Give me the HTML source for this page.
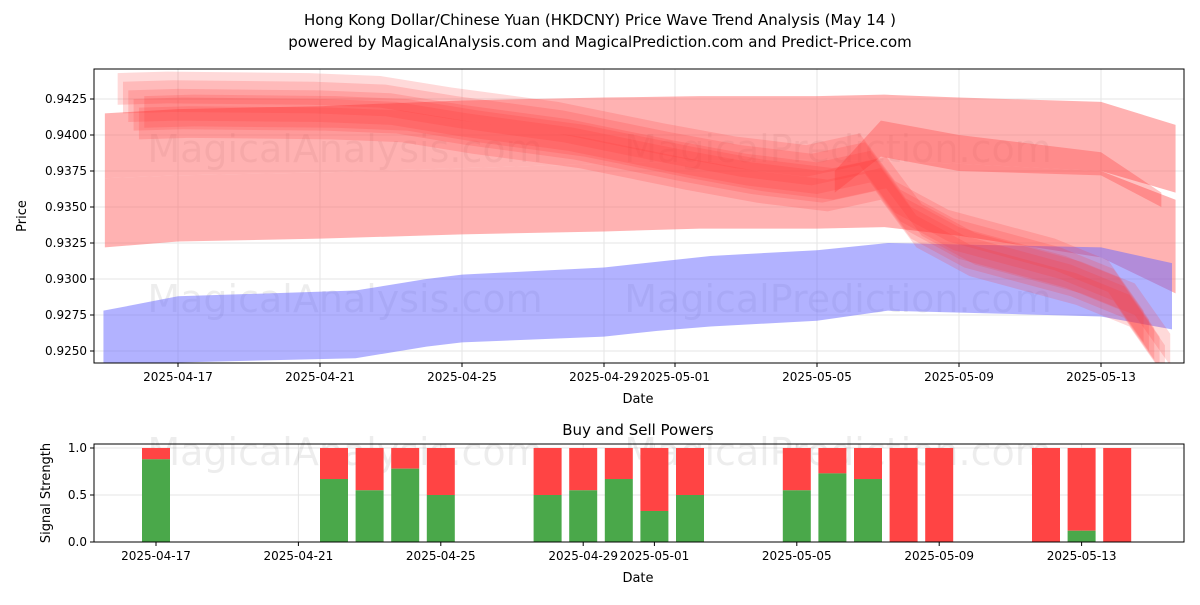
<!DOCTYPE html>
<html><head><meta charset="utf-8"><style>
body{margin:0;background:#fff;font-family:"Liberation Sans","DejaVu Sans",sans-serif}
svg text{font-family:"DejaVu Sans","Liberation Sans",sans-serif}
</style></head><body>
<svg id="c" width="1200" height="600" xmlns="http://www.w3.org/2000/svg">
<rect width="1200" height="600" fill="#fff"/>
<text x="600" y="25" text-anchor="middle" font-size="15">Hong Kong Dollar/Chinese Yuan (HKDCNY) Price Wave Trend Analysis (May 14 )</text>
<text x="600" y="47" text-anchor="middle" font-size="15">powered by MagicalAnalysis.com and MagicalPrediction.com and Predict-Price.com</text>
<g id="topg"></g><g id="botg"></g>
</svg>
<script>
const tickDays=[0,4,8,12,14,18,22,26];
const tickLabels=["2025-04-17","2025-04-21","2025-04-25","2025-04-29","2025-05-01","2025-05-05","2025-05-09","2025-05-13"];
const priceTicks=[0.9250,0.9275,0.9300,0.9325,0.9350,0.9375,0.9400,0.9425];
const band1Days=[-2.06,0,4,8,12,14.7,18,19.9,22,26,28.1];
const band1Hi=[0.9415,0.9418,0.9420,0.9424,0.9426,0.9427,0.9427,0.9428,0.9426,0.9423,0.9407];
const band1Lo=[0.9370,0.9372,0.9374,0.9377,0.9380,0.9382,0.9383,0.9382,0.9380,0.9375,0.9360];
const band2Days=[-2.06,0,4,8,12,14.7,18,19.9,22,26,28.1];
const band2Hi=[0.9370,0.9372,0.9374,0.9377,0.9380,0.9382,0.9383,0.9382,0.9380,0.9375,0.9355];
const band2Lo=[0.9322,0.9326,0.9328,0.9331,0.9333,0.9335,0.9335,0.9336,0.9330,0.9315,0.9290];
const blueDays=[-2.1,0,5,7,8,12,13.5,15,18,20,26,28];
const blueHi=[0.9278,0.9288,0.9292,0.9300,0.9303,0.9308,0.9312,0.9316,0.9320,0.9325,0.9322,0.9311];
const blueLo=[0.9238,0.9242,0.9245,0.9253,0.9256,0.9260,0.9264,0.9267,0.9271,0.9278,0.9274,0.9265];
const humpDays=[18.5,19.8,22,26,27.7];
const humpHi=[0.9375,0.9410,0.9400,0.9388,0.9360];
const humpLo=[0.9360,0.9385,0.9375,0.9372,0.9350];
const strandDays=[-1.4,0,4,6,8,11,14,16,18,19.5,20.5,22,25,26.5,27.5];
const strandVals=[0.9420,0.9421,0.9420,0.9418,0.9410,0.9400,0.9385,0.9376,0.9370,0.9378,0.9345,0.9325,0.9305,0.9290,0.9255];
const strandOffsets=[0.0012,0.0006,0,-0.0006,-0.0012,-0.0004];
const barDays=[0,5,6,7,8,11,12,13,14,15,18,19,20,21,22,25,26,27];
const buyVals=[0.88,0.67,0.55,0.78,0.5,0.5,0.55,0.67,0.33,0.5,0.55,0.73,0.67,0,0,0,0.12,0];
const sigTicks=[0,0.5,1.0];

const NS="http://www.w3.org/2000/svg";
const L=94,R=1184,T=69,B=363,BT=444,BB=542;
const xT=d=>178+d*35.5, yT=v=>99+(0.9425-v)/0.0025*36;
const xB=d=>156+d*35.6, yB=s=>542-s*94;
function mk(p,tag,a){const e=document.createElementNS(NS,tag);for(const k in a)e.setAttribute(k,a[k]);p.appendChild(e);return e;}
const topG=document.getElementById('topg'),botG=document.getElementById('botg');
function wm(p,x,y,txt){const w=mk(p,'text',{x:x,y:y,'font-size':38,fill:'#000','fill-opacity':0.07,'text-anchor':'middle'});w.textContent=txt;

}
const defs=mk(topG,'defs',{});const cp=mk(defs,'clipPath',{id:'cp'});mk(cp,'rect',{x:L,y:T,width:R-L,height:B-T});
priceTicks.forEach(v=>{mk(topG,'line',{x1:L,x2:R,y1:yT(v),y2:yT(v),stroke:'#e5e5e5'});});
tickDays.forEach(d=>{mk(topG,'line',{x1:xT(d),x2:xT(d),y1:T,y2:B,stroke:'#e5e5e5'});});
wm(topG,345,162,'MagicalAnalysis.com');wm(topG,838,162,'MagicalPrediction.com');
wm(topG,345,312,'MagicalAnalysis.com');wm(topG,838,312,'MagicalPrediction.com');
const g=mk(topG,'g',{'clip-path':'url(#cp)'});
function band(days,hi,lo,fill,op,name){
  let pts=days.map((d,i)=>xT(d)+','+yT(hi[i]));
  for(let i=days.length-1;i>=0;i--)pts.push(xT(days[i])+','+yT(lo[i]));
  const p=mk(g,'polygon',{points:pts.join(' '),fill:fill,'fill-opacity':op});
  
  
}
band(band1Days,band1Hi,band1Lo,'#ff6666',0.5,'upper-red-band');
band(band2Days,band2Hi,band2Lo,'#ff6666',0.5,'lower-red-band');
band(blueDays,blueHi,blueLo,'#6666ff',0.5,'blue-band');
band(humpDays,humpHi,humpLo,'#ff3333',0.3,'hump-strand');
strandOffsets.forEach((o,k)=>{
  const hi=strandVals.map(v=>v+o+0.0011), lo=strandVals.map(v=>v+o-0.0011);
  const ds=strandDays.map((d,i)=>d+(k-2)*0.15);
  band(ds,hi,lo,'#ff3333',0.19,'wave-strand');
});
mk(topG,'rect',{x:L,y:T,width:R-L,height:B-T,fill:'none',stroke:'#000'});
priceTicks.forEach(v=>{mk(topG,'line',{x1:L-4,x2:L,y1:yT(v),y2:yT(v),stroke:'#000'});
  const t=mk(topG,'text',{x:L-7,y:yT(v)+4,'font-size':12,'text-anchor':'end'});t.textContent=v.toFixed(4);
  
  });
tickDays.forEach((d,i)=>{mk(topG,'line',{x1:xT(d),x2:xT(d),y1:B,y2:B+4,stroke:'#000'});
  const t=mk(topG,'text',{x:xT(d),y:B+18,'font-size':12,'text-anchor':'middle'});t.textContent=tickLabels[i];
  
  });
let tx=mk(topG,'text',{x:638,y:403,'font-size':13,'text-anchor':'middle'});tx.textContent='Date';


tx=mk(topG,'text',{x:26,y:216,'font-size':13,'text-anchor':'middle',transform:'rotate(-90 26 216)'});tx.textContent='Price';


sigTicks.forEach(s=>mk(botG,'line',{x1:L,x2:R,y1:yB(s),y2:yB(s),stroke:'#e5e5e5'}));
tickDays.forEach(d=>mk(botG,'line',{x1:xB(d),x2:xB(d),y1:BT,y2:BB,stroke:'#e5e5e5'}));
wm(botG,345,465,'MagicalAnalysis.com');wm(botG,838,465,'MagicalPrediction.com');
barDays.forEach((d,i)=>{
  const x=xB(d)-14,b=buyVals[i];
  const r=mk(botG,'rect',{x:x,y:yB(1),width:28,height:yB(b)-yB(1),fill:'#ff4444'});
  
  
  const gb=mk(botG,'rect',{x:x,y:yB(b),width:28,height:yB(0)-yB(b),fill:'#4aa84a'});
  
  
});
mk(botG,'rect',{x:L,y:BT,width:R-L,height:BB-BT,fill:'none',stroke:'#000'});
sigTicks.forEach(s=>{mk(botG,'line',{x1:L-4,x2:L,y1:yB(s),y2:yB(s),stroke:'#000'});
  const t=mk(botG,'text',{x:L-7,y:yB(s)+4,'font-size':12,'text-anchor':'end'});t.textContent=s.toFixed(1);
  
  });
tickDays.forEach((d,i)=>{mk(botG,'line',{x1:xB(d),x2:xB(d),y1:BB,y2:BB+4,stroke:'#000'});
  const t=mk(botG,'text',{x:xB(d),y:BB+18,'font-size':12,'text-anchor':'middle'});t.textContent=tickLabels[i];
  
  });
tx=mk(botG,'text',{x:638,y:582,'font-size':13,'text-anchor':'middle'});tx.textContent='Date';


tx=mk(botG,'text',{x:50,y:493,'font-size':13,'text-anchor':'middle',transform:'rotate(-90 50 493)'});tx.textContent='Signal Strength';


tx=mk(botG,'text',{x:638,y:435,'font-size':15,'text-anchor':'middle'});tx.textContent='Buy and Sell Powers';


</script>
</body></html>
